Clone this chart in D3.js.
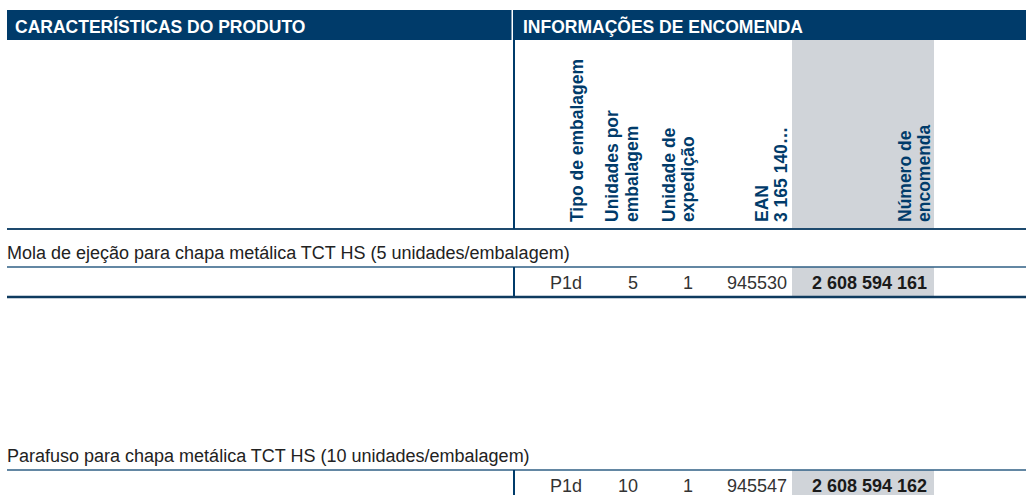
<!DOCTYPE html>
<html><head><meta charset="utf-8">
<script src="https://cdn.jsdelivr.net/npm/d3@7"></script>
<style>html,body{margin:0;padding:0;background:#fff;}svg{display:block;}</style>
</head><body>
<svg id="c" width="1026" height="495"></svg>
<script>
// ---- data ----
const sectionHeaders = ["CARACTERÍSTICAS DO PRODUTO", "INFORMAÇÕES DE ENCOMENDA"];
const columnLabels = [["Tipo de embalagem"], ["Unidades por", "embalagem"], ["Unidade de", "expedição"], ["EAN", "3 165 140…"], ["Número de", "encomenda"]];
const products = ["Mola de ejeção para chapa metálica TCT HS (5 unidades/embalagem)", "Parafuso para chapa metálica TCT HS (10 unidades/embalagem)"];
const packType = ["P1d", "P1d"];
const unitsPerPack = ["5", "10"];
const shippingUnit = ["1", "1"];
const eanSuffix = ["945530", "945547"];
const orderNumber = ["2 608 594 161", "2 608 594 162"];

// ---- layout ----
const W = 1026, H = 495;
const navy = "#003b6a", gray = "#d0d4d9";
const FONT = "'Liberation Sans', Arial, sans-serif";
const svg = d3.select("#c");

// column right edges (data) and label baselines
const colRight = d3.scaleOrdinal().domain(d3.range(5)).range([582, 638, 693, 787, 927]);
const labelBase = [[583], [618, 638], [675, 694], [768, 787], [911, 930]];
const rowY = d3.scaleOrdinal().domain([0, 1]).range([267, 470]); // top line of each data row
const grayX0 = 792, grayX1 = 934;

// gray column
svg.append("rect").attr("x", grayX0).attr("y", 40).attr("width", grayX1 - grayX0).attr("height", 189).attr("fill", gray);
products.forEach((p, i) => {
  const y0 = rowY(i);
  svg.append("rect").attr("x", grayX0).attr("y", y0).attr("width", grayX1 - grayX0)
     .attr("height", Math.min(30, H - y0)).attr("fill", gray);
});

// header bar
svg.append("rect").attr("x", 7).attr("y", 10).attr("width", 511.5 - 7).attr("height", 30).attr("fill", navy);
svg.append("rect").attr("x", 513).attr("y", 10).attr("width", W - 513).attr("height", 30).attr("fill", navy);
svg.selectAll("text.sec").data(sectionHeaders).join("text").attr("class", "sec")
  .attr("x", (d, i) => i === 0 ? 15 : 523).attr("y", 32.5)
  .attr("fill", "#fff").attr("font-family", FONT).attr("font-weight", "bold").attr("font-size", 17.5)
  .text(d => d);

// vertical column labels
columnLabels.forEach((lines, ci) => {
  lines.forEach((t, li) => {
    svg.append("text")
      .attr("transform", `translate(${labelBase[ci][li]},222) rotate(-90)`)
      .attr("fill", navy).attr("font-family", FONT).attr("font-weight", "bold").attr("font-size", 17.5)
      .text(t);
  });
});

// horizontal line under header block
svg.append("line").attr("x1", 7).attr("x2", W).attr("y1", 229).attr("y2", 229).attr("stroke", "#1e4a6e").attr("stroke-width", 2);
// vertical divider in header block
svg.append("line").attr("x1", 514).attr("x2", 514).attr("y1", 40).attr("y2", 229).attr("stroke", navy).attr("stroke-width", 2);

// product rows
products.forEach((p, i) => {
  const y0 = rowY(i);
  svg.append("text").attr("x", 7).attr("y", y0 - 8.5)
    .attr("fill", "#222").attr("font-family", FONT).attr("font-size", 18).text(p);
  svg.append("line").attr("x1", 7).attr("x2", W).attr("y1", y0).attr("y2", y0).attr("stroke", "#2f5f84").attr("stroke-width", 1.5);
  svg.append("line").attr("x1", 514).attr("x2", 514).attr("y1", y0).attr("y2", Math.min(y0 + 30, H)).attr("stroke", navy).attr("stroke-width", 2);
  if (y0 + 30 <= H) {
    svg.append("line").attr("x1", 7).attr("x2", W).attr("y1", y0 + 30).attr("y2", y0 + 30).attr("stroke", "#0f3b5f").attr("stroke-width", 2.5);
  }
  const vals = [packType[i], unitsPerPack[i], shippingUnit[i], eanSuffix[i], orderNumber[i]];
  vals.forEach((v, ci) => {
    svg.append("text").attr("x", colRight(ci)).attr("y", y0 + 21.5).attr("text-anchor", "end")
      .attr("fill", ci === 4 ? "#1a1a1a" : "#333").attr("font-family", FONT)
      .attr("font-weight", ci === 4 ? "bold" : "normal").attr("font-size", 18).text(v);
  });
});
</script>
</body></html>
